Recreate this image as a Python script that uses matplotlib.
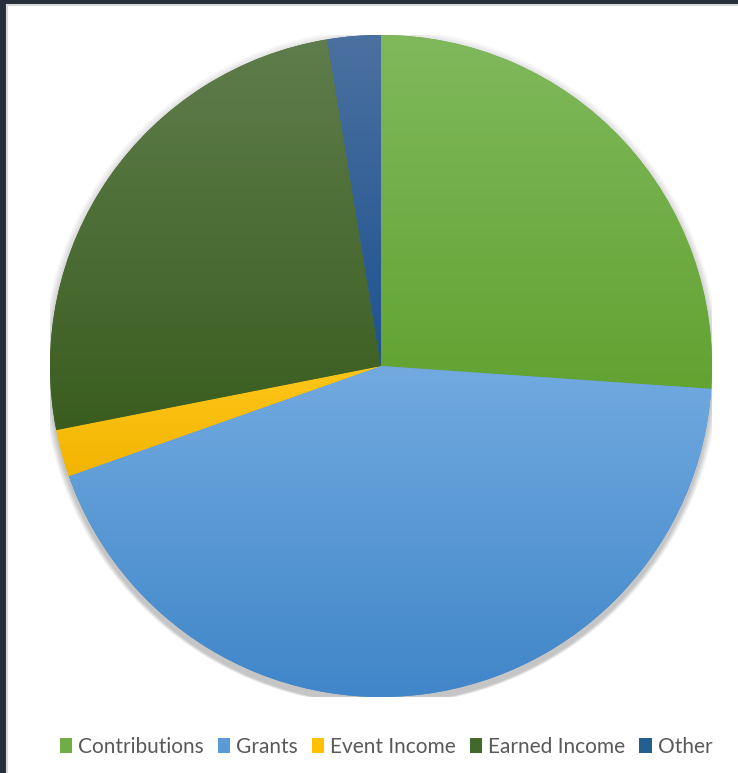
import numpy as np
import matplotlib.pyplot as plt
from matplotlib.colors import to_rgb
from matplotlib.patches import Circle, Patch

# revenue mix (percent of total)
labels = ['Contributions', 'Grants', 'Event Income', 'Earned Income', 'Other']
shares = [26.1, 43.5, 2.3, 25.5, 2.6]

# slice fills: lighter at top, darker at bottom (Excel style gradient)
top_colors = ['#80b95c', '#72aae0', '#ffc61a', '#5f7d4c', '#4b71a0']
bottom_colors = ['#62a332', '#3f85c8', '#f2b400', '#3a5d1f', '#1e5290']
legend_colors = ['#70ad47', '#5b9bd5', '#ffc000', '#43682b', '#255e91']

W, H = 738, 773
fig = plt.figure(figsize=(W / 100, H / 100), dpi=100)
fig.patch.set_facecolor('#262e39')

bg = fig.add_axes([7 / W, 0, 1 - 7 / W, 1 - 5 / H])
bg.set_facecolor('white')
bg.set_xticks([])
bg.set_yticks([])
for side, s in bg.spines.items():
    if side in ('top', 'left'):
        s.set_edgecolor('#d9d9d9')
        s.set_linewidth(1.5)
    else:
        s.set_visible(False)

cx, cy, r = 381, 366, 331
ax = fig.add_axes([(cx - r) / W, (H - cy - r) / H, 2 * r / W, 2 * r / H])

# soft shadow under the pie, mostly below it
for k in range(10):
    ax.add_patch(Circle((0.0, -0.02 + 0.0018 * k), 1.0 + 0.0025 * k,
                        color='black', alpha=0.022, lw=0, zorder=0))

wedges, _ = ax.pie(shares, startangle=90, counterclock=False, radius=1,
                   wedgeprops=dict(linewidth=0))

for w, c0, c1 in zip(wedges, top_colors, bottom_colors):
    v = w.get_path().vertices
    y0, y1 = v[:, 1].min(), v[:, 1].max()
    t = np.linspace(0, 1, 256)[:, None]
    grad = (1 - t) * np.array(to_rgb(c1)) + t * np.array(to_rgb(c0))
    w.set_facecolor(c1)
    im = ax.imshow(grad[:, None, :], extent=[-1, 1, y0, y1], origin='lower',
                   aspect='auto', zorder=2, interpolation='bilinear')
    im.set_clip_path(w)

ax.set_xlim(-1.0, 1.0)
ax.set_ylim(-1.0, 1.0)
ax.set_aspect('auto')
ax.axis('off')

handles = [Patch(facecolor=c, edgecolor='none') for c in legend_colors]
fig.legend(handles, labels, loc='center', ncol=5,
           bbox_to_anchor=(386 / W, 1 - 747 / H), frameon=False,
           handlelength=0.6, handleheight=0.7, handletextpad=0.3,
           columnspacing=0.65, labelcolor='#595959',
           prop={'family': 'Lato', 'size': 15})

fig.savefig('out.png', dpi=100, facecolor=fig.get_facecolor())
